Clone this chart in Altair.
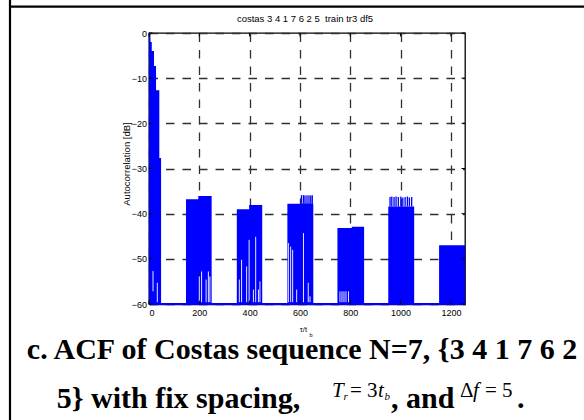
import altair as alt
import pandas as pd

# ---- data ----
# upper envelope of the autocorrelation (dB), step-after breakpoints
env_t = [0, 5, 11, 20, 28, 41, 48, 147, 196, 249, 349, 398, 450, 550, 603, 653,
         749, 806, 855, 951, 1054, 1153, 1256]
env_db = [0, -2, -4, -7.3, -12.7, -27.7, -60, -36.8, -36.1, -60, -39.0, -38.1, -60,
          -37.8, -37.7, -60, -43.2, -42.9, -60, -38.4, -60, -47.0, -47.0]

# fine spikes rising above the solid part of some clusters
spike_t = [958, 965, 974, 982, 991, 1001, 1009, 1018, 1027, 1035, 1044,
           606, 614, 620, 628, 636, 643, 649]
spike_top = [-36.3, -36.2, -36.3, -36.2, -36.3, -36.2, -36.4, -36.3, -36.2, -36.4, -36.3,
             -35.9, -35.9, -36.0, -35.9, -35.9, -36.0, -35.9]
spike_bot = [-38.4] * 11 + [-37.7] * 7

# white gaps where the oscillation does not reach the floor
gap_t = [16, 33, 200, 209, 227, 236, 242,
         359, 368, 388, 398, 415, 424, 435, 441,
         554, 563, 571, 587, 614, 633, 640,
         759, 767, 775, 783, 793]
gap_top = [-52.7, -55.3, -53.9, -52.8, -54.6, -52.8, -53.9,
           -54.6, -50.2, -51.7, -45.8, -56.8, -45.1, -56.8, -55.0,
           -46.5, -47.3, -48.0, -56.8, -44.3, -55.3, -58.3,
           -57.2, -57.2, -57.2, -57.2, -57.2]
gap_bot = [-57.2, -59.6] + [-59.6] * 25

x_ticks = [0, 200, 400, 600, 800, 1000, 1200]
y_ticks = [-60, -50, -40, -30, -20, -10, 0]

title_text = "costas 3 4 1 7 6 2 5\u00a0 train tr3 df5"
ylabel_text = "Autocorrelation [dB]"
caption1 = "c. ACF of Costas sequence N=7, {3 4 1 7 6 2"

BLUE = "#0000ff"
NARROW = "Liberation Sans Narrow, Arial Narrow, Liberation Sans, Arial, sans-serif"
SERIF = "Liberation Serif, Times New Roman, serif"
W, H = 316, 271

env = pd.DataFrame({"t": env_t, "db": env_db})
spk = pd.DataFrame({"t": spike_t, "top": spike_top, "bot": spike_bot})
gap = pd.DataFrame({"t": gap_t, "top": gap_top, "bot": gap_bot})
xt = pd.DataFrame({"v": x_ticks})
yt = pd.DataFrame({"v": y_ticks})
one = pd.DataFrame({"a": [0]})

xs = alt.Scale(domain=[0, 1256], nice=False, zero=False)
ys = alt.Scale(domain=[-60, 0], nice=False, zero=False)

grid_kw = dict(grid=True, gridDash=[8.5, 8], gridColor="#303030", gridWidth=1.3,
               ticks=False, domainColor="black", domainWidth=1.3, format="d",
               labelFont=NARROW, labelFontSize=9, labelColor="black", title=None)

area = alt.Chart(env).mark_area(color=BLUE, interpolate="step-after").encode(
    x=alt.X("t:Q", scale=xs, axis=alt.Axis(values=x_ticks, labelPadding=4, **grid_kw)),
    y=alt.Y("db:Q", scale=ys, axis=alt.Axis(values=y_ticks, labelPadding=2.5, **grid_kw)),
    y2=alt.datum(-60),
)

floor = alt.Chart(env).mark_rule(color=BLUE, strokeWidth=1.2).encode(
    x=alt.datum(0, scale=xs), x2=alt.datum(1256), y=alt.datum(-60, scale=ys))

spikes = alt.Chart(spk).mark_rule(color=BLUE, strokeWidth=1.3).encode(
    x=alt.X("t:Q", scale=xs), y=alt.Y("top:Q", scale=ys), y2="bot:Q")

gaps = alt.Chart(gap).mark_rule(color="white", strokeWidth=0.9).encode(
    x=alt.X("t:Q", scale=xs), y=alt.Y("top:Q", scale=ys), y2="bot:Q")

tick_style = dict(color="black", strokeWidth=1)
tl = alt.Chart(yt).mark_rule(**tick_style).encode(y=alt.Y("v:Q", scale=ys), x=alt.value(0), x2=alt.value(3.5))
tr = alt.Chart(yt).mark_rule(**tick_style).encode(y=alt.Y("v:Q", scale=ys), x=alt.value(W - 3.5), x2=alt.value(W))
tb = alt.Chart(xt).mark_rule(**tick_style).encode(x=alt.X("v:Q", scale=xs), y=alt.value(H - 3.5), y2=alt.value(H))
tt = alt.Chart(xt).mark_rule(**tick_style).encode(x=alt.X("v:Q", scale=xs), y=alt.value(0), y2=alt.value(3.5))


def txt(s, x, y, size, font=SERIF, weight="normal", style="normal", align="left", angle=0):
    kw = dict(font=font, fontSize=size, fontWeight=weight, fontStyle=style, align=align,
              baseline="alphabetic", color="black")
    if angle:
        kw["angle"] = angle
        kw["baseline"] = "middle"
    return alt.Chart(pd.DataFrame({"s": [s]})).mark_text(**kw).encode(
        x=alt.value(x), y=alt.value(y), text="s:N")


OX, OY = 149, 33  # plot origin in page pixels

texts = [
    txt(title_text, 305 - OX, 22 - OY, 9.5, font=NARROW, align="center"),
    txt(ylabel_text, 127 - OX, 164 - OY, 9.5, font=NARROW, align="center", angle=270),
    txt("τ/t", 307 - OX, 332 - OY, 7.5, font=NARROW, align="right"),
    txt("b", 309.5 - OX, 337 - OY, 5.5, font=NARROW),
    txt(caption1, 302 - OX, 359 - OY, 30, weight="bold", align="center"),
    txt("5} with fix spacing,", 178.5 - OX, 408 - OY, 30, weight="bold", align="center"),
    txt("T", 332 - OX, 397 - OY, 21, style="italic"),
    txt("r", 343.5 - OX, 400 - OY, 11, style="italic"),
    txt("= 3", 350 - OX, 397 - OY, 21),
    txt("t", 378 - OX, 397 - OY, 21, style="italic"),
    txt("b", 384.5 - OX, 400 - OY, 11, style="italic"),
    txt(", and", 391 - OX, 408 - OY, 30, weight="bold"),
    txt("Δ", 460 - OX, 397 - OY, 21),
    txt("f", 473 - OX, 397 - OY, 21, style="italic"),
    txt("= 5", 485 - OX, 397 - OY, 21),
    txt(".", 517 - OX, 408 - OY, 30, weight="bold"),
]

frame_left = alt.Chart(one).mark_rule(color="black", strokeWidth=2.2).encode(
    x=alt.value(10 - OX), y=alt.value(0 - OY), y2=alt.value(420 - OY))
frame_top = alt.Chart(one).mark_rule(color="black", strokeWidth=2.2).encode(
    x=alt.value(9 - OX), x2=alt.value(584 - OX), y=alt.value(6.7 - OY))

chart = alt.layer(
    area, floor, spikes, gaps, tl, tr, tb, tt, frame_left, frame_top, *texts
).properties(
    width=W, height=H,
    autosize=alt.AutoSizeParams(type="none"),
    padding={"left": OX, "top": OY, "right": 584 - OX - W, "bottom": 420 - OY - H},
    background="white",
).configure_view(stroke="black", strokeWidth=1.3)

chart.save("out.html", embed_options={"renderer": "svg", "actions": False})
